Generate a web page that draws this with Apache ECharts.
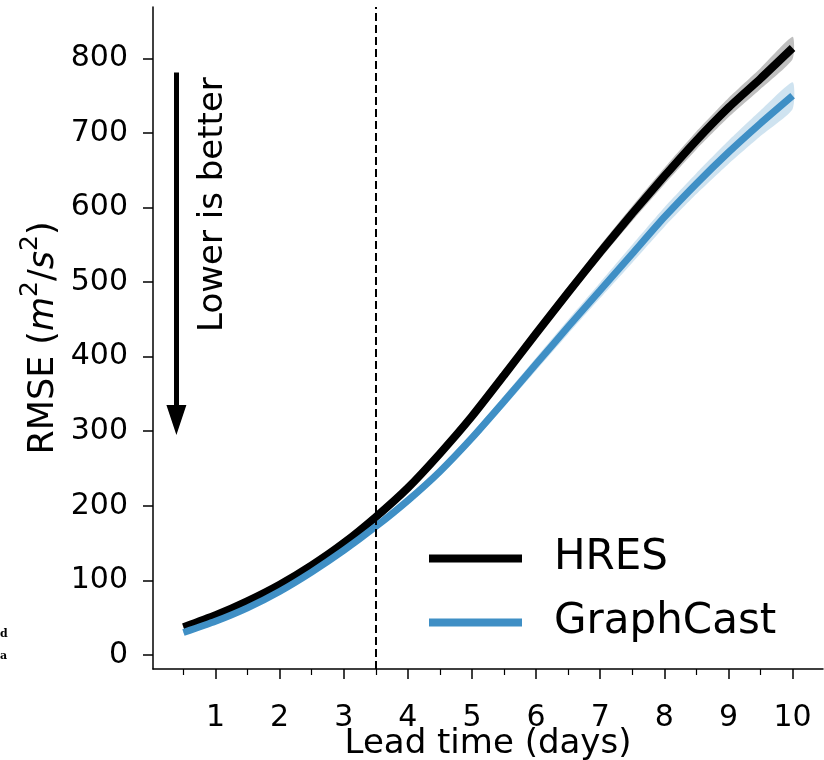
<!DOCTYPE html>
<html>
<head>
<meta charset="utf-8">
<title>RMSE vs lead time</title>
<script src="https://cdn.jsdelivr.net/npm/echarts@6/dist/echarts.min.js"></script>
<style>
html, body { margin: 0; padding: 0; background: #fff; }
.main { width: 824px; height: 760px; }
</style>
</head>
<body>
<div class="main"></div>
<script>
let leadTime = [0.5, 1, 1.5, 2, 2.5, 3, 3.5, 4, 4.5, 5, 5.5, 6, 6.5, 7, 7.5, 8, 8.5, 9, 9.5, 10]

let hres = [37, 53, 72, 94, 120, 150, 185, 224, 270, 320, 375, 431, 486, 540, 592, 642, 690, 734, 773, 814]
let hresLow = [36, 52, 70.5, 92, 117.5, 147, 181.5, 220, 265.5, 315, 369, 424, 478, 531, 582, 631, 678, 721, 759, 799]
let hresHigh = [38, 54, 73.5, 96, 122.5, 153, 188.5, 228, 274.5, 325, 381, 438, 494, 549, 602, 653, 702, 747, 787, 829]

let graphcast = [30, 45, 63, 85, 111, 140, 172, 207, 246, 291, 340, 390, 440, 489, 538, 587, 632, 674, 713, 750]
let gcLow = [29, 43.5, 61, 82.5, 108, 136.5, 168, 202, 240.5, 284.5, 332.5, 381.5, 430.5, 478.5, 526, 574, 618, 658.5, 696, 732]
let gcHigh = [31, 46.5, 65, 87.5, 114, 143.5, 176, 212, 251.5, 297.5, 347.5, 398.5, 449.5, 499.5, 550, 600, 646, 689.5, 730, 768]

let xTicks = [1, 2, 3, 4, 5, 6, 7, 8, 9, 10]
let xMinorTicks = [0.5, 1.5, 2.5, 3.5, 4.5, 5.5, 6.5, 7.5, 8.5, 9.5]
let yTicks = [0, 100, 200, 300, 400, 500, 600, 700, 800]

const font = 'DejaVu Sans'
const blue = '#3f8fc5'

function pairs(ys) {
    return leadTime.map((t, i) => [t, ys[i]])
}

// shaded spread drawn as one polygon (upper edge, then lower edge backwards)
function band(name, lo, hi, color) {
    return {
        name: name,
        type: 'custom',
        silent: true,
        data: leadTime.map((t, i) => [t, lo[i], hi[i]]),
        encode: { x: 0, y: [1, 2] },
        renderItem: function (params, api) {
            if (params.dataIndex !== 0) return
            let upper = []
            let lower = []
            for (let i = 0; i < leadTime.length; i++) {
                upper.push(api.coord([leadTime[i], hi[i]]))
                lower.unshift(api.coord([leadTime[i], lo[i]]))
            }
            return {
                type: 'polygon',
                shape: { points: upper.concat(lower), smooth: 0.2 },
                style: { fill: color }
            }
        }
    }
}

let myChart = echarts.init(document.querySelector('.main'))

let xCommon = {
    type: 'value',
    min: 0.025,
    max: 10.475,
    splitLine: { show: false }
}

let option = {
    animation: false,
    backgroundColor: '#fff',
    textStyle: { fontFamily: font },
    grid: { left: 153, right: 1, top: 7, bottom: 91, outerBoundsMode: 'none' },
    legend: {
        data: ['HRES', 'GraphCast'],
        orient: 'vertical',
        left: 424,
        top: 529,
        icon: 'rect',
        itemWidth: 93,
        itemHeight: 8,
        itemGap: 15,
        textStyle: { fontSize: 42, color: '#000', fontFamily: font, lineHeight: 49, padding: [0, 0, 0, 27] }
    },
    xAxis: [
        Object.assign({}, xCommon, {
            name: 'Lead time (days)',
            nameLocation: 'middle',
            nameGap: 58,
            nameMoveOverlap: false,
            nameTextStyle: { fontSize: 34, color: '#000', fontFamily: font },
            axisLine: { onZero: false, lineStyle: { color: '#000', width: 1.5 } },
            axisTick: { customValues: xTicks, length: 10, lineStyle: { color: '#000', width: 1.5 } },
            axisLabel: { customValues: xTicks, fontSize: 30, color: '#000', margin: 34, fontFamily: font }
        }),
        // half-day minor ticks
        Object.assign({}, xCommon, {
            position: 'bottom',
            axisLine: { show: false, onZero: false },
            axisTick: { customValues: xMinorTicks, length: 6, lineStyle: { color: '#000', width: 1.2 } },
            axisLabel: { show: false }
        })
    ],
    yAxis: {
        type: 'value',
        min: -19,
        max: 869,
        splitLine: { show: false },
        name: '{t|RMSE (}{i|m}{p|2}{t|/}{i|s}{p|2}{t|)}',
        nameLocation: 'middle',
        nameRotate: 90,
        nameGap: 92,
        nameMoveOverlap: false,
        nameTextStyle: {
            fontSize: 35, color: '#000', fontFamily: font,
            rich: {
                t: { fontSize: 35, fontFamily: font, lineHeight: 43, verticalAlign: 'bottom' },
                i: { fontSize: 35, fontFamily: font, fontStyle: 'italic', lineHeight: 43, verticalAlign: 'bottom' },
                p: { fontSize: 25, fontFamily: font, lineHeight: 25, verticalAlign: 'top' }
            }
        },
        axisLine: { show: true, onZero: false, lineStyle: { color: '#000', width: 1.5 } },
        axisTick: { show: true, customValues: yTicks, length: 10, lineStyle: { color: '#000', width: 1.5 } },
        axisLabel: { customValues: yTicks, fontSize: 30, color: '#000', margin: 25, padding: [5, 0, 0, 0], fontFamily: font }
    },
    series: [
        band('hresBand', hresLow, hresHigh, 'rgba(0,0,0,0.25)'),
        {
            name: 'HRES', type: 'line', symbol: 'none', color: '#000', smooth: 0.2,
            lineStyle: { color: '#000', width: 8 },
            data: pairs(hres),
            markLine: {
                silent: true,
                symbol: ['none', 'none'],
                label: { show: false },
                lineStyle: { color: '#000', width: 2, type: [8, 4] },
                data: [
                    { xAxis: 3.5 },
                    [
                        { coord: [0.39, 781], symbol: 'none', lineStyle: { type: 'solid', width: 5 } },
                        { coord: [0.39, 315], symbol: 'triangle', symbolSize: [20, 30], lineStyle: { type: 'solid', width: 5 } }
                    ]
                ]
            }
        },
        band('gcBand', gcLow, gcHigh, 'rgba(63,143,197,0.25)'),
        {
            name: 'GraphCast', type: 'line', symbol: 'none', color: blue, smooth: 0.2,
            lineStyle: { color: blue, width: 7 },
            data: pairs(graphcast)
        }
    ]
}

myChart.setOption(option)

// annotation text next to the arrow
let p = myChart.convertToPixel({ gridIndex: 0 }, [0.97, 604])
myChart.setOption({
    graphic: [
        {
            type: 'text', x: p[0], y: p[1], rotation: Math.PI / 2,
            style: { text: 'Lower is better', fontSize: 34, fontFamily: font, fill: '#000', align: 'center', verticalAlign: 'middle' }
        },
        {
            type: 'text', left: 0, top: 629,
            style: { text: 'd', fontSize: 11, fontWeight: 'bold', fontFamily: 'DejaVu Serif', fill: '#000' }
        },
        {
            type: 'text', left: 0, top: 651,
            style: { text: 'a', fontSize: 11, fontWeight: 'bold', fontFamily: 'DejaVu Serif', fill: '#000' }
        }
    ]
})
</script>
</body>
</html>
